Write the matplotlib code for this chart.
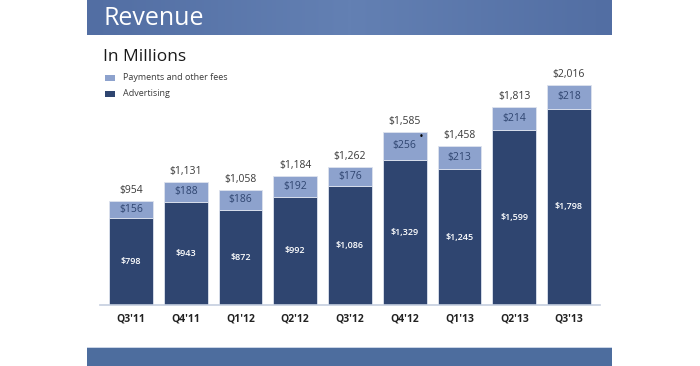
import numpy as np
import matplotlib.pyplot as plt
from matplotlib.patches import Rectangle
from matplotlib.colors import LinearSegmentedColormap

# data (USD millions)
quarters = ["Q3'11", "Q4'11", "Q1'12", "Q2'12", "Q3'12", "Q4'12", "Q1'13", "Q2'13", "Q3'13"]
advertising = [798, 943, 872, 992, 1086, 1329, 1245, 1599, 1798]
payments = [156, 188, 186, 192, 176, 256, 213, 214, 218]
totals = [954, 1131, 1058, 1184, 1262, 1585, 1458, 1813, 2016]

c_adv = '#2F4570'
c_pay = '#8DA2CD'
c_text = '#3A3A3A'

W, H = 700, 366
fig = plt.figure(figsize=(7, 3.66), dpi=100)

# header band with soft gradient
hdr = fig.add_axes([87 / W, 1 - 35 / H, 525 / W, 35 / H])
grad = np.abs(np.linspace(-1, 1, 256))[None, :]
hdr.imshow(grad, aspect='auto', extent=[0, 1, 0, 1],
           cmap=LinearSegmentedColormap.from_list('h', ['#6380B3', '#526EA3']))
hdr.set_axis_off()
hdr.text(16 / 525, 0.48, 'Revenue', color='white', fontsize=18, va='center', ha='left',
         family='Open Sans')

# footer band
fig.patches.append(Rectangle((87 / W, 0), 525 / W, 18 / H, transform=fig.transFigure,
                             facecolor='#4D6D9E', edgecolor='none'))
fig.patches.append(Rectangle((87 / W, 18 / H), 525 / W, 1.2 / H, transform=fig.transFigure,
                             facecolor='#C9D4E6', edgecolor='none'))

fig.text(103 / W, 1 - 57 / H, 'In Millions', fontsize=12.5, color='#1A1A1A', va='center',
         family='Open Sans')

# legend
for i, (lab, col) in enumerate([('Payments and other fees', c_pay), ('Advertising', c_adv)]):
    y = 77 + 16 * i
    fig.patches.append(Rectangle((105 / W, 1 - (y + 3.5) / H), 10 / W, 6 / H,
                                 transform=fig.transFigure, facecolor=col, edgecolor='none'))
    fig.text(123 / W, 1 - y / H, lab, fontsize=6.5, color=c_text, va='center', family='Open Sans')

# main chart
ax = fig.add_axes([100 / W, 1 - 305 / H, 500 / W, 245 / H])
x = np.arange(len(quarters))
ax.bar(x, advertising, width=0.8, color=c_adv, edgecolor='#DDE3EE', linewidth=0.6)
ax.bar(x, payments, bottom=advertising, width=0.8, color=c_pay, edgecolor='#DDE3EE', linewidth=0.6)

for i in range(len(quarters)):
    ax.text(x[i], advertising[i] / 2, f'${advertising[i]:,}', ha='center', va='center',
            color='white', fontsize=6.5, fontweight='semibold', family='Open Sans')
    ax.text(x[i], advertising[i] + payments[i] / 2, f'${payments[i]:,}', ha='center', va='center',
            color=c_adv, fontsize=7.5, family='Open Sans')
    ax.text(x[i], totals[i] + 45, f'${totals[i]:,}', ha='center', va='bottom',
            color=c_text, fontsize=7.5, family='Open Sans')

# footnote marker on Q4'12 payments
ax.text(x[5] + 0.3, advertising[5] + payments[5] - 45, '•', ha='center', va='center',
        color='black', fontsize=6)

ax.set_xlim(-0.566, 8.566)
ax.set_ylim(0, 2245)
ax.set_xticks(x)
ax.set_xticklabels(quarters, fontsize=7.5, fontweight='bold', color='#222222', family='Open Sans')
ax.tick_params(axis='x', length=0, pad=6)
ax.set_yticks([])
for s in ['top', 'right', 'left']:
    ax.spines[s].set_visible(False)
ax.spines['bottom'].set_color('#C5CEDF')
ax.spines['bottom'].set_linewidth(1.2)
ax.patch.set_alpha(0)

fig.savefig('out.png', dpi=100)
